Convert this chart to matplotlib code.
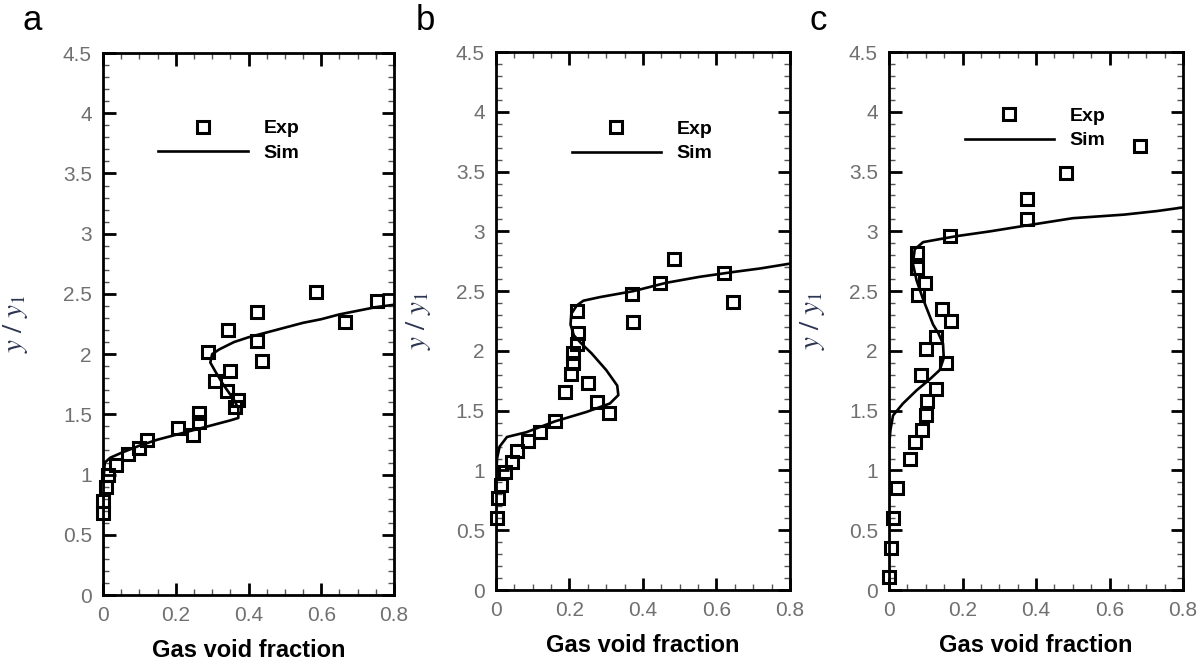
import numpy as np
import matplotlib.pyplot as plt
from matplotlib.ticker import MultipleLocator

plt.rcParams["font.family"] = ["Liberation Sans", "DejaVu Sans"]
plt.rcParams["mathtext.fontset"] = "stix"

# panel labels
panels = ["a", "b", "c"]
xtick_labels = ["0", "0.2", "0.4", "0.6", "0.8"]
ytick_labels = ["0", "0.5", "1", "1.5", "2", "2.5", "3", "3.5", "4", "4.5"]

# experimental points (gas void fraction, y/y1)
exp_a_x = [0.586, 0.753, 0.665, 0.423, 0.344, 0.423, 0.437, 0.288, 0.349, 0.307, 0.340,
           0.372, 0.363, 0.265, 0.265, 0.247, 0.205, 0.121, 0.098, 0.070, 0.037, 0.014,
           0.009, 0.0, 0.0]
exp_a_y = [2.52, 2.44, 2.27, 2.35, 2.20, 2.11, 1.94, 2.02, 1.86, 1.78, 1.69,
           1.62, 1.56, 1.51, 1.44, 1.33, 1.39, 1.29, 1.22, 1.17, 1.08, 1.00,
           0.90, 0.78, 0.68]

exp_b_x = [0.484, 0.620, 0.446, 0.369, 0.374, 0.646, 0.220, 0.224, 0.220, 0.210, 0.210,
           0.204, 0.188, 0.251, 0.274, 0.308, 0.160, 0.120, 0.088, 0.056, 0.043, 0.024,
           0.015, 0.006, 0.002]
exp_b_y = [2.77, 2.65, 2.57, 2.48, 2.24, 2.41, 2.33, 2.15, 2.06, 1.98, 1.90,
           1.81, 1.66, 1.73, 1.57, 1.48, 1.41, 1.32, 1.25, 1.16, 1.07, 0.99,
           0.88, 0.77, 0.60]

exp_c_x = [0.682, 0.482, 0.376, 0.376, 0.167, 0.077, 0.077, 0.097, 0.079, 0.143, 0.170,
           0.129, 0.102, 0.156, 0.086, 0.129, 0.104, 0.102, 0.091, 0.070, 0.056, 0.022,
           0.011, 0.005, 0.0]
exp_c_y = [3.71, 3.49, 3.27, 3.10, 2.96, 2.82, 2.69, 2.57, 2.47, 2.35, 2.25,
           2.12, 2.02, 1.90, 1.80, 1.68, 1.58, 1.46, 1.34, 1.24, 1.10, 0.85,
           0.60, 0.35, 0.11]

# simulation curves
sim_a_x = [0.0, 0.0, 0.005, 0.02, 0.05, 0.10, 0.15, 0.20, 0.25, 0.30, 0.35, 0.372, 0.372,
           0.36, 0.33, 0.31, 0.295, 0.30, 0.32, 0.36, 0.40, 0.45, 0.50, 0.55, 0.60, 0.65,
           0.70, 0.75, 0.80]
sim_a_y = [0.0, 0.90, 1.10, 1.14, 1.18, 1.24, 1.29, 1.33, 1.37, 1.41, 1.45, 1.47, 1.55,
           1.62, 1.75, 1.85, 1.93, 2.00, 2.04, 2.10, 2.14, 2.18, 2.22, 2.26, 2.29, 2.33,
           2.36, 2.39, 2.41]

sim_b_x = [0.0, 0.0, 0.003, 0.01, 0.03, 0.083, 0.16, 0.247, 0.31, 0.333, 0.33, 0.30,
           0.26, 0.233, 0.212, 0.203, 0.205, 0.22, 0.238, 0.283, 0.374, 0.464, 0.555,
           0.646, 0.72, 0.80]
sim_b_y = [0.0, 0.90, 1.10, 1.20, 1.28, 1.32, 1.41, 1.49, 1.56, 1.63, 1.71, 1.84,
           1.98, 2.06, 2.13, 2.22, 2.31, 2.38, 2.42, 2.45, 2.50, 2.57, 2.62,
           2.66, 2.69, 2.73]

sim_c_x = [0.0, 0.0, 0.004, 0.011, 0.038, 0.075, 0.11, 0.138, 0.149, 0.147, 0.134,
           0.12, 0.093, 0.075, 0.065, 0.07, 0.093, 0.129, 0.184, 0.275, 0.376, 0.50,
           0.64, 0.73, 0.80]
sim_c_y = [0.0, 1.20, 1.34, 1.46, 1.56, 1.67, 1.76, 1.84, 1.94, 2.06, 2.15,
           2.22, 2.43, 2.59, 2.73, 2.85, 2.91, 2.93, 2.96, 3.00, 3.05, 3.11,
           3.14, 3.17, 3.20]

exp_sets = [(exp_a_x, exp_a_y), (exp_b_x, exp_b_y), (exp_c_x, exp_c_y)]
sim_sets = [(sim_a_x, sim_a_y), (sim_b_x, sim_b_y), (sim_c_x, sim_c_y)]

fig = plt.figure(figsize=(12.02, 6.61), dpi=100)
rects = [[0.0857, 0.0998, 0.2421, 0.8200],
         [0.4126, 0.1074, 0.2446, 0.8139],
         [0.7396, 0.1074, 0.2446, 0.8139]]
legend_pos = [(0.19, 0.838), (0.2575, 0.834), (0.2575, 0.858)]
ylabel_x = [-0.25, -0.215, -0.21]
tick_grey = "#707070"

for i, rect in enumerate(rects):
    ax = fig.add_axes(rect)
    ex, ey = exp_sets[i]
    sx, sy = sim_sets[i]
    line, = ax.plot(sx, sy, color="black", linewidth=1.9, label="Sim", zorder=2)
    pts, = ax.plot(ex, ey, linestyle="none", marker="s", markersize=8.5,
                   markerfacecolor="none", markeredgecolor="black",
                   markeredgewidth=2.2, label="Exp", zorder=3, clip_on=False)

    ax.set_xlim(0, 0.8)
    ax.set_ylim(0, 4.5)
    ax.set_xticks([0, 0.2, 0.4, 0.6, 0.8])
    ax.set_xticklabels(xtick_labels)
    ax.set_yticks([0, 0.5, 1, 1.5, 2, 2.5, 3, 3.5, 4, 4.5])
    ax.set_yticklabels(ytick_labels)
    ax.xaxis.set_minor_locator(MultipleLocator(0.05))
    ax.yaxis.set_minor_locator(MultipleLocator(0.1))

    for s in ax.spines.values():
        s.set_linewidth(2.0)
    ax.tick_params(which="major", direction="in", length=9, width=2.0,
                   top=True, right=True, labelsize=15, labelcolor=tick_grey, pad=8)
    ax.tick_params(which="minor", direction="in", length=4, width=1.0,
                   top=True, right=True, color="#555555")

    ax.set_xlabel("Gas void fraction", fontsize=17, fontweight="bold", labelpad=10)
    ax.set_ylabel(r"$y\ /\ y_1$", fontsize=21, color="#2b3550")
    ax.yaxis.set_label_coords(ylabel_x[i], 0.5)

    ax.legend(handles=[pts, line], loc="center left", bbox_to_anchor=legend_pos[i],
              frameon=False, borderpad=0, borderaxespad=0, handlelength=4.6,
              handletextpad=0.8, labelspacing=0.35, numpoints=1,
              prop={"weight": "bold", "size": 14})

    fig.text(rect[0] - 0.059, 0.955, panels[i], fontsize=25, ha="center", va="baseline")

fig.savefig("out.png", dpi=100)
